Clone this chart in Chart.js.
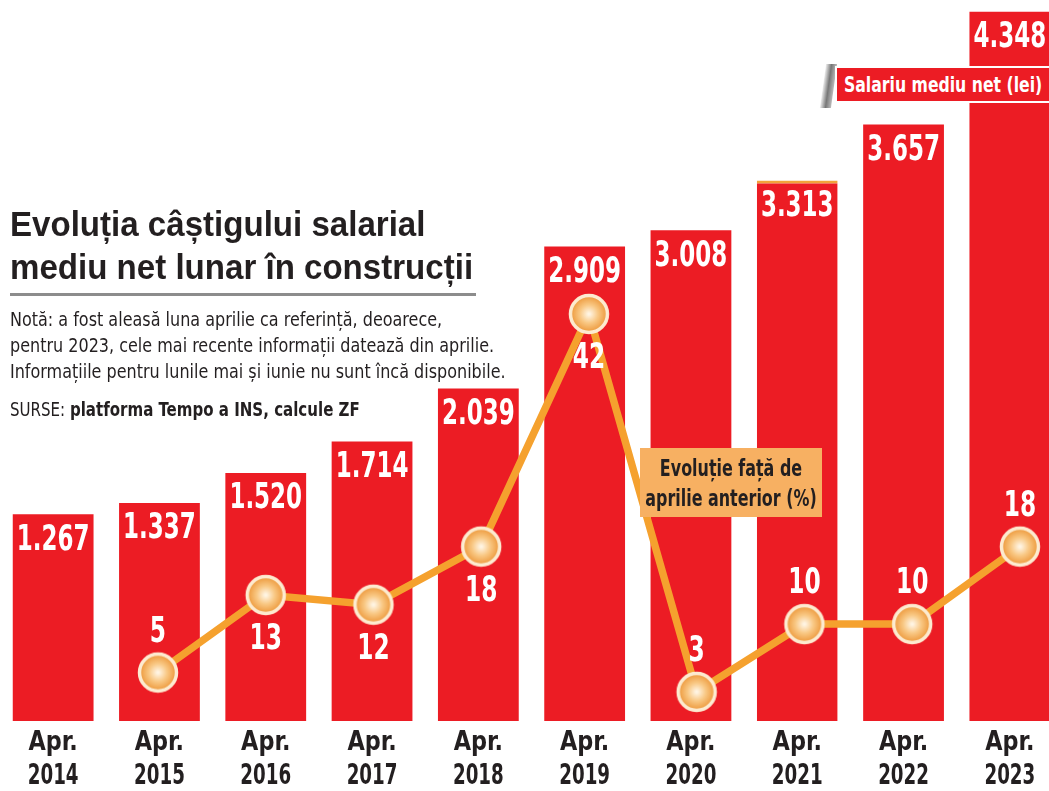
<!DOCTYPE html>
<html>
<head>
<meta charset="utf-8">
<script src="https://cdn.jsdelivr.net/npm/chart.js@4.4.0/dist/chart.umd.min.js"></script>
<style>
html, body { margin:0; padding:0; background:#fff; overflow:hidden; width:1049px; height:791px; }
#wrap { position:absolute; left:0; top:0; width:1063px; height:791px; }
.narrow { font-family:"DejaVu Sans Condensed","Liberation Sans Narrow",sans-serif; }
.sq { display:inline-block; transform-origin:left top; white-space:nowrap; }
#title { position:absolute; left:10px; top:202px; font:bold 35px "Liberation Sans",Arial,sans-serif; color:#231f20; line-height:43px; transform:scaleX(0.945); }
#rule { position:absolute; left:10px; top:293px; width:466px; height:3px; background:#8c8c8c; }
#note { position:absolute; left:10px; top:306px; font-size:20px; line-height:26px; color:#231f20; transform:scaleX(0.89); }
#src { position:absolute; left:10px; top:398px; font-size:19px; color:#231f20; transform:scaleX(0.88); }
#lgBar { position:absolute; left:835px; top:66px; width:230px; height:33px; background:#ec1c24; border:2px solid #fff; }
#lgBar .sq { color:#fff; font-weight:bold; font-size:21px; line-height:34px; margin-left:7px; transform:scaleX(0.83); }
#lgIcon { position:absolute; left:823px; top:64px; width:11px; height:44px; background:linear-gradient(90deg,#eee,#777,#bbb); transform:skewX(-8deg); }
#lgLine { position:absolute; left:640px; top:448px; width:182px; height:69px; background:#f7b062; }
#lgLine div { width:280px; margin-left:-49px; text-align:center; color:#231f20; font-weight:bold; font-size:23px; line-height:30px; padding-top:5px; transform:scaleX(0.77); transform-origin:center top; white-space:nowrap; }
</style>
</head>
<body>
<div id="wrap">
  <canvas id="chart" width="1063" height="791"></canvas>
</div>
<div id="title" class="sq">Evoluția câștigului salarial<br>mediu net lunar în construcții</div>
<div id="rule"></div>
<div id="note" class="narrow sq">Notă: a fost aleasă luna aprilie ca referință, deoarece,<br>pentru 2023, cele mai recente informații datează din aprilie.<br>Informațiile pentru lunile mai și iunie nu sunt încă disponibile.</div>
<div id="src" class="narrow sq">SURSE: <b>platforma Tempo a INS, calcule ZF</b></div>
<div id="lgIcon"></div>
<div id="lgBar" class="narrow"><span class="sq">Salariu mediu net (lei)</span></div>
<div id="lgLine" class="narrow"><div>Evoluție față de<br>aprilie anterior (%)</div></div>
<script>
const NARROW = '"DejaVu Sans Condensed","Liberation Sans Narrow",sans-serif';

// date
const years = ['2014', '2015', '2016', '2017', '2018', '2019', '2020', '2021', '2022', '2023'];
const tickLabels = years.map(y => ['Apr.', y]);
const salaries = [1267, 1337, 1520, 1714, 2039, 2909, 3008, 3313, 3657, 4348];
const growth = [null, 5, 13, 12, 18, 42, 3, 10, 10, 18];

// eticheta sub punct (true) sau deasupra (false)
const labelBelow = [false, false, true, true, true, true, false, false, false, false];

function fmt(v) {
    const s = String(v);
    return s.length > 3 ? s.slice(0, s.length - 3) + '.' + s.slice(-3) : s;
}

// text ingust (fontul condensat nu exista, il comprimam)
function narrowText(ctx, text, x, y, k) {
    ctx.save();
    ctx.translate(x, y);
    ctx.scale(k, 1);
    ctx.fillText(text, 0, 0);
    ctx.restore();
}

// cercul portocaliu pentru puncte
function makeDot() {
    const c = document.createElement('canvas');
    c.width = 44; c.height = 44;
    const g = c.getContext('2d');
    const grad = g.createRadialGradient(22, 22, 1, 22, 22, 19);
    grad.addColorStop(0, '#fff4e2');
    grad.addColorStop(0.45, '#f9c884');
    grad.addColorStop(1, '#ec9434');
    g.beginPath();
    g.arc(22, 22, 18.5, 0, Math.PI * 2);
    g.fillStyle = grad;
    g.fill();
    g.lineWidth = 3.5;
    g.strokeStyle = '#fdebd0';
    g.stroke();
    return c;
}

const labelPlugin = {
    id: 'valueLabels',
    afterDatasetsDraw(chart) {
        const ctx = chart.ctx;
        ctx.save();
        ctx.textAlign = 'center';
        ctx.textBaseline = 'middle';
        ctx.fillStyle = '#fff';
        ctx.font = 'bold 36px ' + NARROW;
        chart.getDatasetMeta(1).data.forEach((bar, i) => {
            narrowText(ctx, fmt(salaries[i]), bar.x, bar.y + 26, 0.71);
        });
        chart.getDatasetMeta(0).data.forEach((pt, i) => {
            if (growth[i] == null) return;
            narrowText(ctx, String(growth[i]), pt.x, pt.y + (labelBelow[i] ? 45 : -40), 0.72);
        });
        // etichetele axei X
        const xs = chart.scales.x;
        ctx.fillStyle = '#231f20';
        tickLabels.forEach((lines, i) => {
            const x = xs.getPixelForTick(i);
            ctx.font = 'bold 27px ' + NARROW;
            narrowText(ctx, lines[0], x, xs.top + 22, 0.92);
            ctx.font = 'bold 29px ' + NARROW;
            narrowText(ctx, lines[1], x, xs.top + 55, 0.7);
        });
        ctx.restore();
    }
};

new Chart(document.getElementById('chart').getContext('2d'), {
    data: {
        labels: tickLabels,
        datasets: [
            {
                type: 'line',
                data: growth.map((v, i) => ({ x: i, y: v })),
                xAxisID: 'x2',
                yAxisID: 'y2',
                borderColor: '#f5a12e',
                borderWidth: 7.5,
                pointStyle: makeDot(),
                order: 1
            },
            {
                type: 'bar',
                data: salaries,
                xAxisID: 'x',
                yAxisID: 'y',
                backgroundColor: '#ec1c24',
                borderColor: '#f2a33a',
                borderSkipped: false,
                borderWidth: c => c.dataIndex === 7 ? { top: 3, left: 0, right: 0, bottom: 0 } : 0,
                grouped: false,
                barPercentage: 0.76,
                categoryPercentage: 1,
                order: 2
            }
        ]
    },
    plugins: [labelPlugin],
    options: {
        responsive: false,
        animation: false,
        plugins: { legend: { display: false }, tooltip: { enabled: false } },
        layout: { padding: 0, autoPadding: false },
        scales: {
            x: {
                offset: true,
                grid: { display: false, drawTicks: false },
                border: { display: false },
                ticks: { display: false },
                afterFit: s => { s.height = 70; }
            },
            x2: { type: 'linear', display: false, min: -0.466, max: 9.40 },
            y: { display: false, min: 0, max: 4420 },
            y2: { display: false, min: 0, max: 74.4 }
        }
    }
});
</script>
</body>
</html>
